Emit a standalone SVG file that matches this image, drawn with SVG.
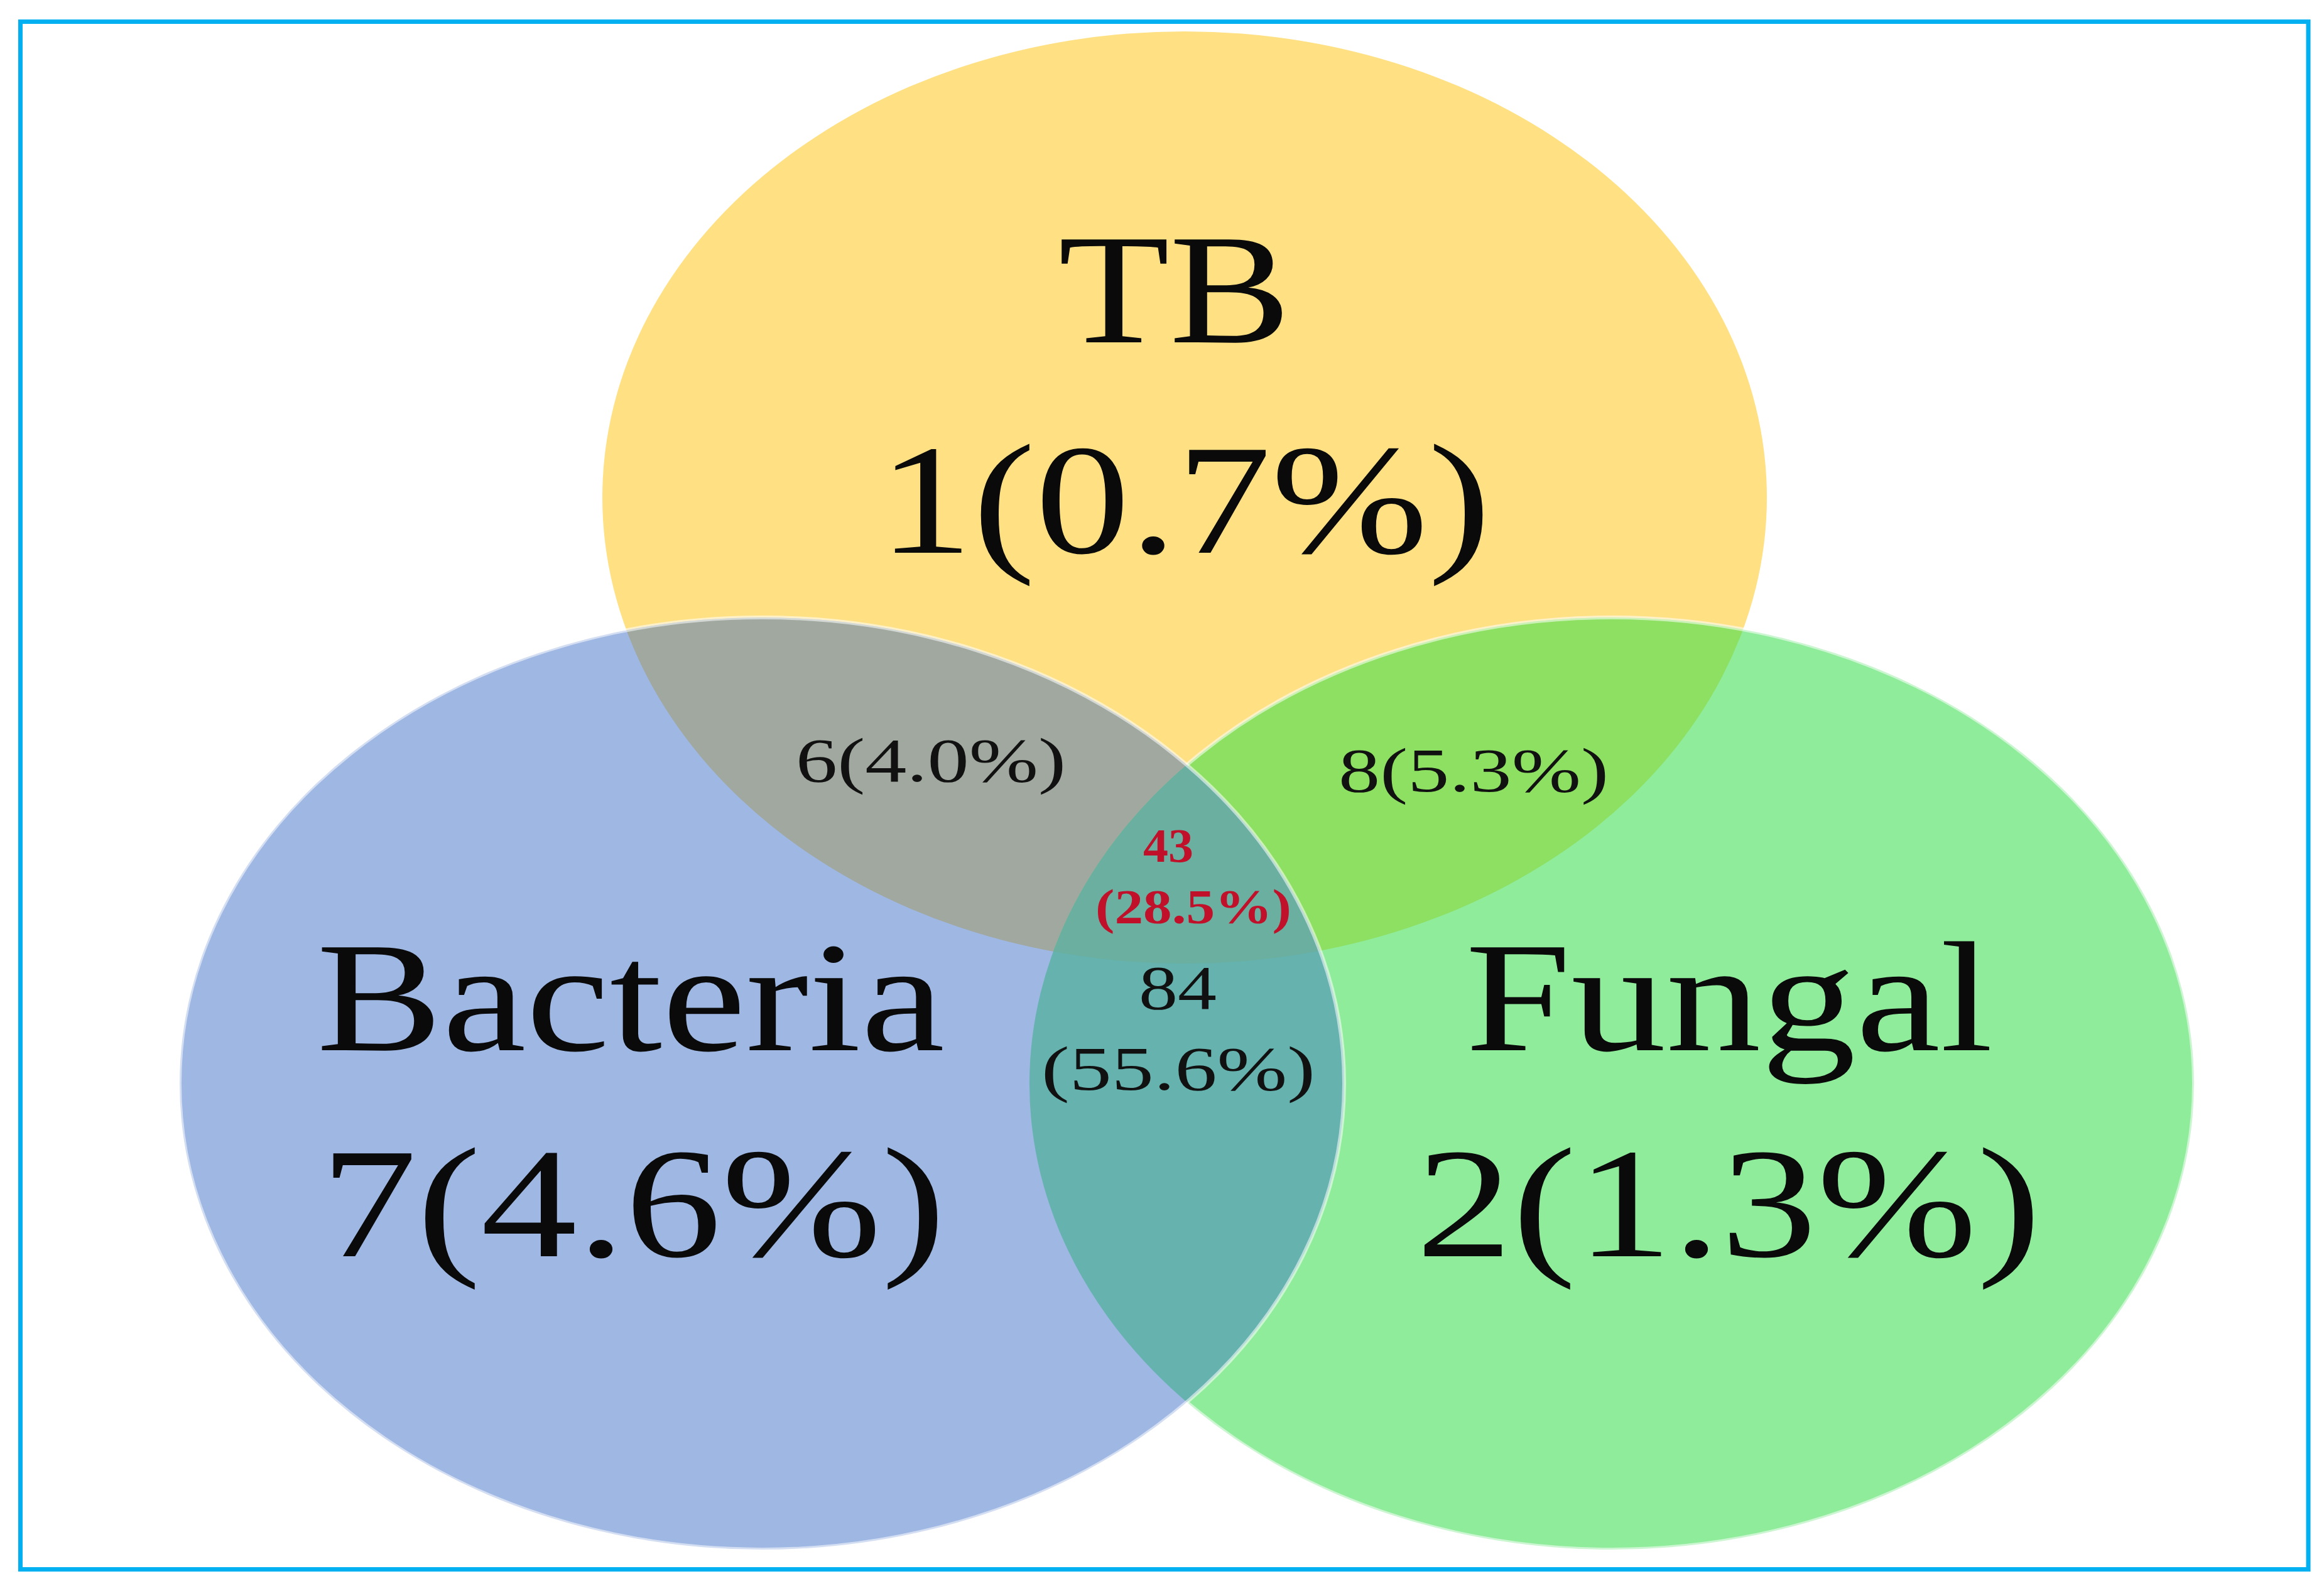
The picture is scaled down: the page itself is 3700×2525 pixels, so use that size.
<svg xmlns="http://www.w3.org/2000/svg" width="3700" height="2525" viewBox="0 0 3700 2525">
  <style>
    .big { font-family: "Liberation Serif", "Times New Roman", serif; font-size: 250px; fill: #0a0a0a; text-anchor: middle; }
    .small { font-family: "Liberation Serif", "Times New Roman", serif; font-size: 100px; fill: #111111; text-anchor: middle; }
    .red { font-family: "Liberation Serif", "Times New Roman", serif; font-weight: bold; fill: #c0102a; text-anchor: middle; }
    .edge { fill: none; stroke: #ffffff; stroke-opacity: 0.55; stroke-width: 6; }
  </style>
  <defs>
    <clipPath id="cTB"><ellipse cx="1886" cy="792" rx="927" ry="742"/></clipPath>
    <clipPath id="cBac"><ellipse cx="1213" cy="1725" rx="927" ry="742"/></clipPath>
    <mask id="mNoBac">
      <rect x="0" y="0" width="3700" height="2525" fill="#fff"/>
      <ellipse cx="1213" cy="1725" rx="927" ry="742" fill="#000"/>
    </mask>
  </defs>
  <rect x="0" y="0" width="3700" height="2525" fill="#ffffff"/>

  <g id="tb">
    <ellipse cx="1886" cy="792" rx="927" ry="742" fill="#ffe083"/>
  </g>
  <g id="fungal">
    <ellipse cx="2566" cy="1725" rx="927" ry="742" fill="#8fec9b"/>
  </g>
  <g id="bacteria">
    <ellipse cx="1213" cy="1725" rx="927" ry="742" fill="#9fb7e3"/>
  </g>
  <g id="tb-bacteria">
    <ellipse cx="1213" cy="1725" rx="927" ry="742" fill="#a0a89f" clip-path="url(#cTB)"/>
  </g>
  <g id="tb-fungal">
    <ellipse cx="2566" cy="1725" rx="927" ry="742" fill="#8de061" clip-path="url(#cTB)"/>
  </g>
  <g id="bacteria-fungal">
    <ellipse cx="2566" cy="1725" rx="927" ry="742" fill="#65b2ae" clip-path="url(#cBac)"/>
  </g>
  <g id="all-three">
    <g clip-path="url(#cTB)">
      <ellipse cx="2566" cy="1725" rx="927" ry="742" fill="#6aafa0" clip-path="url(#cBac)"/>
    </g>
  </g>
  <g id="outlines">
    <ellipse class="edge" cx="2566" cy="1725" rx="927" ry="742" mask="url(#mNoBac)"/>
    <ellipse class="edge" cx="1213" cy="1725" rx="927" ry="742"/>
  </g>

  <g id="labels">
    <text class="big" x="1870" y="545" textLength="370" lengthAdjust="spacingAndGlyphs">TB</text>
    <text class="big" x="1886" y="880" textLength="975" lengthAdjust="spacingAndGlyphs">1(0.7%)</text>
    <text class="big" x="1004" y="1672" textLength="1000" lengthAdjust="spacingAndGlyphs">Bacteria</text>
    <text class="big" x="1008" y="2000" textLength="995" lengthAdjust="spacingAndGlyphs">7(4.6%)</text>
    <text class="big" x="2753" y="1672" textLength="840" lengthAdjust="spacingAndGlyphs">Fungal</text>
    <text class="big" x="2752" y="2000" textLength="995" lengthAdjust="spacingAndGlyphs">2(1.3%)</text>

    <text class="small" x="1482" y="1244" font-size="104" textLength="430" lengthAdjust="spacingAndGlyphs">6(4.0%)</text>
    <text class="small" x="2346" y="1260" textLength="430" lengthAdjust="spacingAndGlyphs">8(5.3%)</text>
    <text class="red" x="1860" y="1372" font-size="76" textLength="80" lengthAdjust="spacingAndGlyphs">43</text>
    <text class="red" x="1900" y="1470" font-size="78" textLength="312" lengthAdjust="spacingAndGlyphs">(28.5%)</text>
    <text class="small" x="1875" y="1606" textLength="124" lengthAdjust="spacingAndGlyphs">84</text>
    <text class="small" x="1876" y="1735" textLength="436" lengthAdjust="spacingAndGlyphs">(55.6%)</text>
  </g>

  <rect x="32.5" y="34.5" width="3642.5" height="2464" fill="none" stroke="#00b0f0" stroke-width="7"/>
</svg>
